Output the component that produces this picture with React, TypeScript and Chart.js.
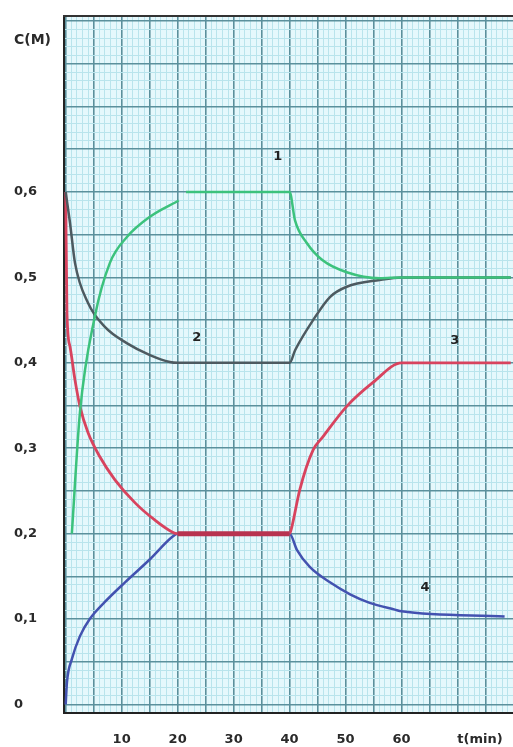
import React, { useEffect, useRef } from "react";
import { Chart, registerables } from "chart.js";

Chart.register(...registerables);

// ---- data ----
const greenT = [1.1, 2.55, 5.2, 7.9, 10.9, 15.05, 20.2, 20.8, 21.5, 40, 40.95, 43.1, 45.9, 50.2, 56.1, 60, 79.5];
const greenC = [0.2, 0.342, 0.454, 0.517, 0.547, 0.571, 0.59, null, 0.6, 0.6, 0.567, 0.54, 0.52, 0.506, 0.499, 0.5, 0.5];

const grayT = [0, 0.77, 1.66, 4.0, 7.0, 10.9, 15.05, 18.6, 20, 40, 41.0, 44.2, 47.2, 50.2, 56.1, 60, 79.5];
const grayC = [0.6, 0.564, 0.517, 0.47, 0.442, 0.423, 0.409, 0.401, 0.4, 0.4, 0.415, 0.45, 0.477, 0.489, 0.497, 0.5, 0.5];

const redT = [0, 0.23, 0.77, 1.66, 2.55, 4.0, 6.1, 8.8, 12.4, 15.9, 19.0, 20, 40, 40.4, 41.8, 44.2, 45.9, 50.2, 54.9, 60, 79.5];
const redC = [0.6, 0.458, 0.419, 0.38, 0.349, 0.318, 0.29, 0.263, 0.236, 0.216, 0.202, 0.2, 0.2, 0.208, 0.251, 0.298, 0.313, 0.349, 0.377, 0.4, 0.4];

const blueT = [0, 0.23, 1.1, 2.55, 4.3, 7.0, 10.6, 15.05, 19.0, 20, 40, 41.3, 43.6, 47.2, 50.8, 54.3, 58.8, 60, 78.4];
const blueC = [0, 0.026, 0.053, 0.08, 0.1, 0.12, 0.143, 0.17, 0.196, 0.2, 0.2, 0.181, 0.161, 0.143, 0.129, 0.119, 0.111, 0.109, 0.103];

const curveLabels = ["1", "2", "3", "4"];
const curveLabelT = [37.9, 23.4, 69.5, 64.2];
const curveLabelC = [0.641, 0.429, 0.426, 0.137];

const yTickValues = [0, 0.1, 0.2, 0.3, 0.4, 0.5, 0.6];
const yTickLabels = ["0", "0,1", "0,2", "0,3", "0,4", "0,5", "0,6"];
const xTickValues = [10, 20, 30, 40, 50, 60, 74];
const xTickLabels = ["10", "20", "30", "40", "50", "60", "t(min)"];
const yAxisName = "C(M)";

const X_MIN = -0.3;
const X_MAX = 79.9;
const Y_MIN = -0.01;
const Y_MAX = 0.806;

const FONT = "'DejaVu Sans', sans-serif";
const DARK_GRID = "#5b909c";
const LIGHT_GRID = "#b9e4ec";

function pts(t: number[], c: (number | null)[]) {
  return t.map((x, i) => ({ x, y: c[i] }));
}

const paperPlugin = {
  id: "paper",
  beforeDraw(chart: any) {
    const { ctx, chartArea } = chart;
    ctx.save();
    ctx.fillStyle = "#e5f8fc";
    ctx.fillRect(chartArea.left, chartArea.top, chartArea.right - chartArea.left, chartArea.bottom - chartArea.top);
    ctx.restore();
  },
  afterDraw(chart: any) {
    const { ctx, scales } = chart;
    ctx.save();
    ctx.fillStyle = "#222";
    ctx.font = `bold 13px ${FONT}`;
    ctx.textAlign = "center";
    ctx.textBaseline = "middle";
    curveLabels.forEach((lab, i) => {
      ctx.fillText(lab, scales.x.getPixelForValue(curveLabelT[i]), scales.y.getPixelForValue(curveLabelC[i]));
    });
    ctx.font = `bold 14px ${FONT}`;
    ctx.textAlign = "left";
    ctx.fillStyle = "#2a2a2a";
    ctx.fillText(yAxisName, 14, 40);
    ctx.restore();
  },
};

export default function App() {
  const ref = useRef<HTMLCanvasElement | null>(null);
  useEffect(() => {
    document.body.style.margin = "0";
    if (!ref.current) return;
    const gxTicks: number[] = [];
    for (let i = 0; i <= 79; i++) gxTicks.push(i);
    const gyTicks: number[] = [];
    for (let i = 0; i <= 80; i++) gyTicks.push(i / 100);

    const chart = new Chart(ref.current, {
      type: "line",
      data: {
        datasets: [
          {
            label: "1",
            data: pts(greenT, greenC),
            borderColor: "#3cc27c",
            borderWidth: 2.5,
            pointRadius: 0,
            cubicInterpolationMode: "monotone",
            spanGaps: false,
          },
          {
            label: "2",
            data: pts(grayT, grayC),
            borderColor: "#4d5a60",
            borderWidth: 2.5,
            pointRadius: 0,
            cubicInterpolationMode: "monotone",
          },
          {
            label: "3",
            data: pts(redT, redC),
            borderColor: "#d8435e",
            borderWidth: 2.8,
            pointRadius: 0,
            cubicInterpolationMode: "monotone",
            segment: {
              borderWidth: (c: any) => (c.p0.parsed.x >= 19.9 && c.p1.parsed.x <= 40.1 ? 5 : 2.8),
              borderColor: (c: any) => (c.p0.parsed.x >= 19.9 && c.p1.parsed.x <= 40.1 ? "#b8334f" : "#d8435e"),
            },
          },
          {
            label: "4",
            data: pts(blueT, blueC),
            borderColor: "#4352b0",
            borderWidth: 2.5,
            pointRadius: 0,
            cubicInterpolationMode: "monotone",
          },
        ],
      },
      options: {
        responsive: false,
        animation: false,
        events: [],
        layout: { padding: { top: 16, left: 14, right: 0, bottom: 0 } },
        plugins: { legend: { display: false }, tooltip: { enabled: false }, title: { display: false } },
        scales: {
          x: {
            type: "linear",
            position: "bottom",
            min: X_MIN,
            max: X_MAX,
            grid: { display: false, drawTicks: false },
            border: { display: true, color: "#222", width: 2 },
            afterBuildTicks: (s: any) => {
              s.ticks = xTickValues.map((v) => ({ value: v }));
            },
            afterFit: (s: any) => {
              s.height = 34;
              s.paddingLeft = 0;
              s.paddingRight = 0;
            },
            ticks: {
              autoSkip: false,
              maxRotation: 0,
              padding: 19,
              color: "#2a2a2a",
              font: { family: FONT, size: 13, weight: "bold" },
              callback: (_v: any, i: number) => xTickLabels[i],
            },
          },
          y: {
            type: "linear",
            position: "left",
            min: Y_MIN,
            max: Y_MAX,
            grid: { display: false, drawTicks: false },
            border: { display: true, color: "#222", width: 2 },
            afterBuildTicks: (s: any) => {
              s.ticks = yTickValues.map((v) => ({ value: v }));
            },
            afterFit: (s: any) => {
              s.width = 50;
              s.paddingTop = 0;
              s.paddingBottom = 0;
            },
            ticks: {
              autoSkip: false,
              crossAlign: "far",
              color: "#2a2a2a",
              font: { family: FONT, size: 13, weight: "bold" },
              callback: (_v: any, i: number) => yTickLabels[i],
            },
          },
          gx: {
            type: "linear",
            position: "top",
            min: X_MIN,
            max: X_MAX,
            afterBuildTicks: (s: any) => {
              s.ticks = gxTicks.map((v) => ({ value: v }));
            },
            afterFit: (s: any) => {
              s.height = 0;
              s.paddingLeft = 0;
              s.paddingRight = 0;
            },
            ticks: { display: false, autoSkip: false },
            border: { display: true, color: "#333", width: 2 },
            grid: {
              drawTicks: false,
              color: (c: any) => (c.tick && c.tick.value % 5 === 0 ? DARK_GRID : LIGHT_GRID),
              lineWidth: (c: any) => (c.tick && c.tick.value % 5 === 0 ? 1.6 : 1),
            },
          },
          gy: {
            type: "linear",
            position: "right",
            min: Y_MIN,
            max: Y_MAX,
            afterBuildTicks: (s: any) => {
              s.ticks = gyTicks.map((v) => ({ value: v }));
            },
            afterFit: (s: any) => {
              s.width = 0;
              s.paddingTop = 0;
              s.paddingBottom = 0;
            },
            ticks: { display: false, autoSkip: false },
            border: { display: false },
            grid: {
              drawTicks: false,
              color: (c: any) => (c.tick && Math.round(c.tick.value * 100) % 5 === 0 ? DARK_GRID : LIGHT_GRID),
              lineWidth: (c: any) => (c.tick && Math.round(c.tick.value * 100) % 5 === 0 ? 1.6 : 1),
            },
          },
        },
      } as any,
      plugins: [paperPlugin],
    });
    return () => chart.destroy();
  }, []);

  return (
    <div style={{ position: "absolute", left: 0, top: 0, width: 513, height: 747, background: "#fff" }}>
      <canvas ref={ref} width={513} height={747} style={{ width: 513, height: 747, display: "block" }} />
    </div>
  );
}
